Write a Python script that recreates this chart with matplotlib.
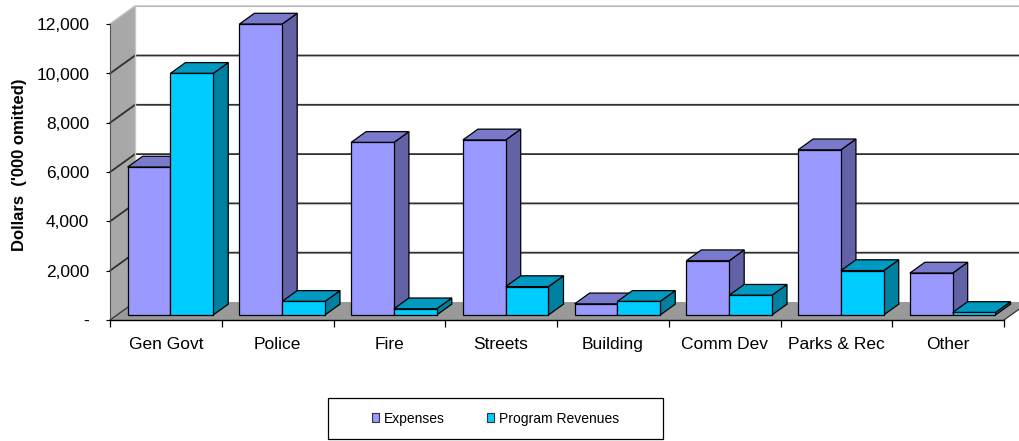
import matplotlib.pyplot as plt
from matplotlib.patches import Polygon, Rectangle, Patch
from matplotlib.ticker import FuncFormatter, FixedLocator

categories = ['Gen Govt', 'Police', 'Fire', 'Streets', 'Building',
              'Comm Dev', 'Parks & Rec', 'Other']
expenses = [6000, 11800, 7000, 7100, 450, 2200, 6700, 1700]
revenues = [9800, 550, 250, 1150, 550, 800, 1800, 100]
series_names = ['Expenses', 'Program Revenues']

plt.rcParams['font.family'] = ['Liberation Sans', 'DejaVu Sans']

# front, top, side shades for each series
exp_cols = ('#9999FF', '#7A7ACC', '#6262A6')
rev_cols = ('#00CCFF', '#0099C0', '#0080A0')

fig = plt.figure(figsize=(10.2, 4.41), dpi=100)
ax = fig.add_axes([110 / 1020, 121 / 441, 894 / 1020, 295.8 / 441])
n = len(categories)
ymax = 12000
ax.set_xlim(0, n)
ax.set_ylim(0, ymax)

# depth of the box (walls/floor) in data units
DX, DY = 0.224, 730
# bars sit between these fractions of the depth
d0, d1 = 0.28, 0.88


def poly(pts, fc, ec='black', lw=0.9, z=2):
    ax.add_patch(Polygon(pts, closed=True, fc=fc, ec=ec, lw=lw,
                         clip_on=False, zorder=z, joinstyle='miter'))


# side wall, back wall, floor
poly([(0, 0), (DX, DY), (DX, ymax + DY), (0, ymax)], '#A8A8A8', ec='none', z=0)
poly([(DX, DY), (n + DX, DY), (n + DX, ymax + DY), (DX, ymax + DY)], 'white', ec='none', z=0)
for v in range(2000, ymax, 2000):
    ax.plot([0, DX, n + DX], [v, v + DY, v + DY], color='#303030', lw=1.3,
            clip_on=False, zorder=1)
ax.plot([0, DX, n + DX], [ymax, ymax + DY, ymax + DY], color='#B8B8B8', lw=1.2,
        clip_on=False, zorder=1)
ax.plot([DX, DX], [DY, ymax + DY], color='#C8C8C8', lw=1, clip_on=False, zorder=1)
poly([(0, 0), (n, 0), (n + DX, DY), (DX, DY)], '#999999', ec='none', z=1)
ax.plot([0, DX], [0, DY], color='#333333', lw=0.9, clip_on=False, zorder=1.5)
ax.plot([n, n + DX], [0, DY], color='#333333', lw=0.9, clip_on=False, zorder=1.5)


def bar3d(x, w, v, cols):
    front, top, side = cols
    x0, y0 = x + d0 * DX, d0 * DY
    x1, y1 = x0 + w, y0 + v
    bx, by = (d1 - d0) * DX, (d1 - d0) * DY
    poly([(x1, y0), (x1 + bx, y0 + by), (x1 + bx, y1 + by), (x1, y1)], side)
    poly([(x0, y1), (x1, y1), (x1 + bx, y1 + by), (x0 + bx, y1 + by)], top)
    poly([(x0, y0), (x1, y0), (x1, y1), (x0, y1)], front)


w = 0.383
for i in range(n):
    bar3d(i + 0.095, w, expenses[i], exp_cols)
    bar3d(i + 0.095 + w, w, revenues[i], rev_cols)

# axes
for s in ['top', 'right']:
    ax.spines[s].set_visible(False)
ax.spines['bottom'].set_linewidth(1.0)
ax.spines['bottom'].set_zorder(5)
ax.spines['left'].set_color('#555555')
ax.spines['left'].set_linewidth(0.8)

ax.set_yticks(range(0, ymax + 1, 2000))
ax.yaxis.set_major_formatter(FuncFormatter(lambda v, p: '-' if v == 0 else f'{int(v):,}'))
ax.tick_params(axis='y', length=3, width=0.8, pad=12, labelsize=12.5)

ax.xaxis.set_major_locator(FixedLocator(range(n + 1)))
ax.xaxis.set_minor_locator(FixedLocator([i + 0.5 for i in range(n)]))
ax.set_xticklabels([])
ax.set_xticklabels(categories, minor=True)
ax.tick_params(axis='x', which='major', length=5, width=0.9)
ax.tick_params(axis='x', which='minor', length=0, pad=21, labelsize=12.5)
for lbl in ax.get_xticklabels(minor=True):
    lbl.set_verticalalignment('baseline')

ax.set_ylabel("Dollars  ('000 omitted)", fontsize=12, fontweight='bold')
ax.yaxis.set_label_coords(-0.093, 0.524)

# legend
handles = [Patch(fc=exp_cols[0], ec='#333333', lw=0.8),
           Patch(fc=rev_cols[0], ec='#333333', lw=0.8)]
fig.legend(handles, series_names, loc='center', bbox_to_anchor=(0.4858, 0.051),
           ncol=2, frameon=False, fontsize=10, handlelength=0.55, handleheight=0.55,
           handletextpad=0.35, columnspacing=3.0)
fig.patches.append(Rectangle((328 / 1020, 2 / 441), 335 / 1020, 41 / 441,
                             fc='none', ec='black', lw=0.9, transform=fig.transFigure))

fig.savefig('out.png', dpi=100)
